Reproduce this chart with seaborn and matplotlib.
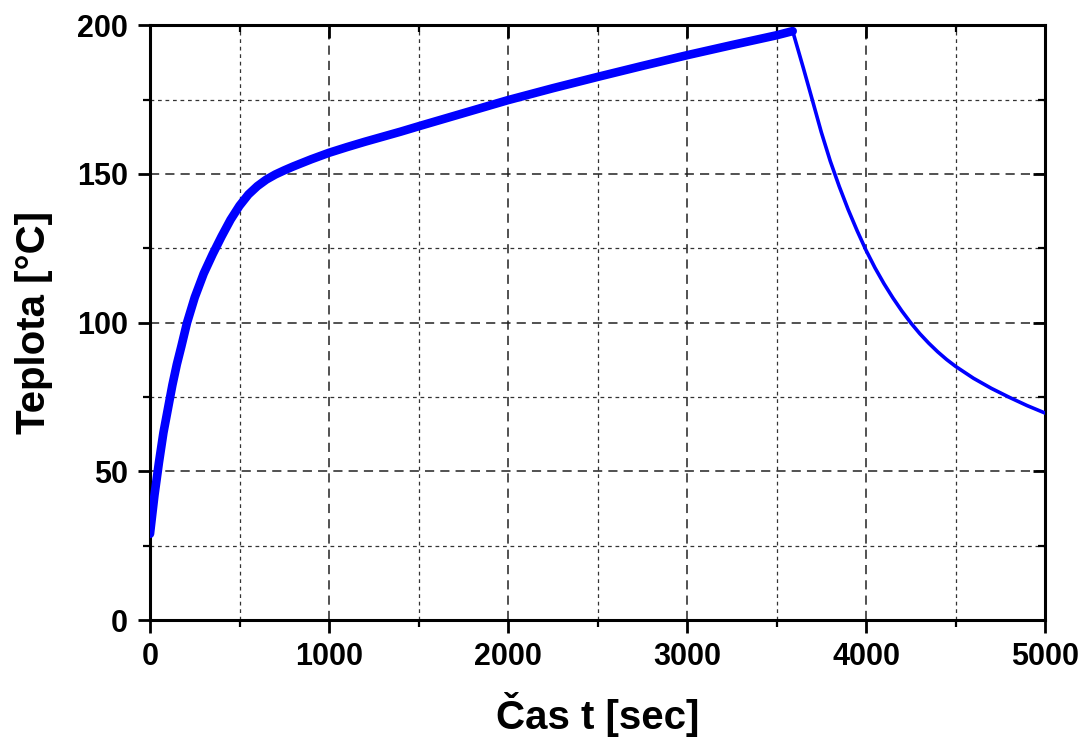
import matplotlib
matplotlib.use("Agg")
import matplotlib.pyplot as plt
import seaborn as sns
import pandas as pd
from matplotlib.ticker import MultipleLocator

# Heating phase (noisy, thick trace)
heat_t = [0, 25, 50, 75, 100, 125, 150, 175, 207, 250, 300, 350, 400, 450, 500,
          550, 600, 650, 700, 750, 800, 900, 1000, 1100, 1200, 1300, 1400, 1500,
          1750, 2000, 2250, 2500, 2750, 3000, 3250, 3500, 3590]
heat_T = [29, 42, 53, 63, 71, 79, 86, 92, 100, 108.5, 116.5, 123, 129, 134.6, 139.3,
          143.1, 145.9, 148.1, 149.8, 151.2, 152.5, 154.9, 157.1, 159.0, 160.8, 162.5,
          164.2, 166, 170.4, 174.8, 178.8, 182.6, 186.3, 189.9, 193.3, 196.6, 198]
# Cooling phase (thin trace)
cool_t = [3590, 3650, 3700, 3750, 3800, 3850, 3900, 3950, 4000, 4050, 4100, 4150,
          4200, 4250, 4300, 4350, 4400, 4450, 4500, 4600, 4700, 4800, 4900, 5000]
cool_T = [198, 185.5, 174.8, 164, 154.3, 145.8, 138, 130.9, 124.3, 118.4, 113.1,
          108.3, 103.9, 99.9, 96.3, 93.1, 90.2, 87.6, 85.3, 81.3, 77.9, 74.9, 72.1,
          69.6]

xlabel = "Čas t [sec]"
ylabel = "Teplota [°C]"

sns.set_style("white")
plt.rcParams['font.family'] = ['Liberation Sans', 'DejaVu Sans']
plt.rcParams['font.weight'] = 'bold'
plt.rcParams['text.color'] = 'black'
plt.rcParams['axes.labelcolor'] = 'black'
plt.rcParams['xtick.color'] = 'black'
plt.rcParams['ytick.color'] = 'black'

fig = plt.figure(figsize=(10.83, 7.40), dpi=100)
ax = fig.add_axes([0.1385, 0.162, 0.8265, 0.804])

heat = pd.DataFrame({"t": heat_t, "T": heat_T})
cool = pd.DataFrame({"t": cool_t, "T": cool_T})
sns.lineplot(data=heat, x="t", y="T", ax=ax, color="#0000ff", linewidth=6.2,
             solid_capstyle="round", solid_joinstyle="round", zorder=3)
sns.lineplot(data=cool, x="t", y="T", ax=ax, color="#0000ff", linewidth=2.6,
             solid_joinstyle="round", zorder=3)

ax.set_xlim(0, 5000)
ax.set_ylim(0, 200)
ax.xaxis.set_major_locator(MultipleLocator(1000))
ax.xaxis.set_minor_locator(MultipleLocator(500))
ax.yaxis.set_major_locator(MultipleLocator(50))
ax.yaxis.set_minor_locator(MultipleLocator(25))

ax.grid(True, which="major", color="#222222", linestyle=(0, (6, 4)), linewidth=1.1)
ax.grid(True, which="minor", color="#333333", linestyle=(0, (3, 3)), linewidth=0.9)
ax.set_axisbelow(True)

for s in ax.spines.values():
    s.set_linewidth(2.2)
    s.set_color("black")
    s.set_visible(True)

ax.tick_params(which="major", direction="out", length=9, width=2, labelsize=22,
               pad=7, bottom=True, left=True, colors="black")
ax.tick_params(which="minor", direction="out", length=5, width=1.6,
               bottom=True, left=True, colors="black")
ax.tick_params(which="both", top=True, right=True)
for tk in ax.xaxis.get_major_ticks() + ax.xaxis.get_minor_ticks():
    tk.tick2line.set_marker(matplotlib.lines.TICKDOWN)
for tk in ax.yaxis.get_major_ticks() + ax.yaxis.get_minor_ticks():
    tk.tick2line.set_marker(matplotlib.lines.TICKLEFT)

for lab in ax.get_xticklabels() + ax.get_yticklabels():
    lab.set_fontweight("bold")

ax.set_xlabel(xlabel, fontsize=29, fontweight="bold", labelpad=14)
ax.set_ylabel(ylabel, fontsize=29, fontweight="bold", labelpad=17)

fig.savefig("out.png", dpi=100)
